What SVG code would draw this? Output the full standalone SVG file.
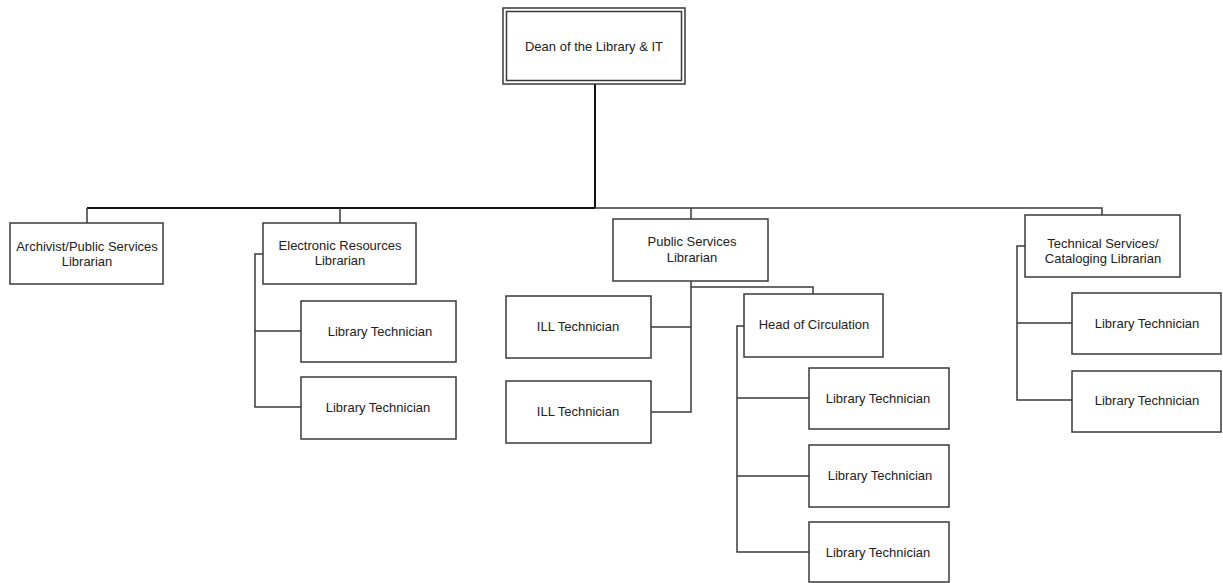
<svg xmlns="http://www.w3.org/2000/svg" width="1223" height="583" viewBox="0 0 1223 583">
<style>
.box{fill:#fff;stroke:#3a3a3a;stroke-width:1.5}
.t{font-family:"Liberation Sans",Arial,sans-serif;font-size:13px;fill:#222;text-anchor:middle}
.c{fill:none;stroke:#3a3a3a;stroke-width:1.5}
.k{fill:none;stroke:#111;stroke-width:2}
</style>
<rect width="1223" height="583" fill="#fff"/>
<g id="connectors">
<path class="k" d="M595 84V208M87 208H595"/>
<path class="c" d="M595 208H1102V215M87 208V223M340 208V223M691 208V219"/>
<path class="c" d="M263 254H255V407H301M255 331H301"/>
<path class="c" d="M691 281V412H651M651 327H691M691 287H813V294"/>
<path class="c" d="M744 326H737V552H809M737 398H809M737 476H809"/>
<path class="c" d="M1025 246H1017V400H1072M1017 323H1072"/>
</g>
<g id="dean">
<rect x="503" y="8" width="182" height="76" fill="#fff" stroke="#3a3a3a" stroke-width="1.5"/>
<rect x="506.5" y="11.5" width="175" height="69" fill="none" stroke="#3a3a3a" stroke-width="1.5"/>
<text class="t" x="594" y="51">Dean of the Library &amp; IT</text>
</g>
<g id="archivist">
<rect class="box" x="10" y="223" width="153" height="61"/>
<text class="t" x="87" y="251">Archivist/Public Services</text>
<text class="t" x="87" y="266">Librarian</text>
</g>
<g id="electronic">
<rect class="box" x="263" y="223" width="153" height="61"/>
<text class="t" x="340" y="250">Electronic Resources</text>
<text class="t" x="340" y="265">Librarian</text>
</g>
<g id="er-tech1">
<rect class="box" x="301" y="301" width="155" height="61"/>
<text class="t" x="380" y="336">Library Technician</text>
</g>
<g id="er-tech2">
<rect class="box" x="301" y="377" width="155" height="62"/>
<text class="t" x="378" y="412">Library Technician</text>
</g>
<g id="public">
<rect class="box" x="613" y="219" width="155" height="62"/>
<text class="t" x="692" y="246">Public Services</text>
<text class="t" x="692" y="262">Librarian</text>
</g>
<g id="ill1">
<rect class="box" x="506" y="296" width="145" height="62"/>
<text class="t" x="578" y="331">ILL Technician</text>
</g>
<g id="ill2">
<rect class="box" x="506" y="381" width="145" height="62"/>
<text class="t" x="578" y="416">ILL Technician</text>
</g>
<g id="circulation">
<rect class="box" x="744" y="294" width="139" height="63"/>
<text class="t" x="814" y="329">Head of Circulation</text>
</g>
<g id="circ-tech1">
<rect class="box" x="809" y="368" width="140" height="61"/>
<text class="t" x="878" y="403">Library Technician</text>
</g>
<g id="circ-tech2">
<rect class="box" x="809" y="445" width="140" height="62"/>
<text class="t" x="880" y="480">Library Technician</text>
</g>
<g id="circ-tech3">
<rect class="box" x="809" y="522" width="140" height="60"/>
<text class="t" x="878" y="557">Library Technician</text>
</g>
<g id="technical">
<rect class="box" x="1025" y="215" width="155" height="62"/>
<text class="t" x="1103" y="248">Technical Services/</text>
<text class="t" x="1103" y="263">Cataloging Librarian</text>
</g>
<g id="ts-tech1">
<rect class="box" x="1072" y="293" width="149" height="61"/>
<text class="t" x="1147" y="328">Library Technician</text>
</g>
<g id="ts-tech2">
<rect class="box" x="1072" y="371" width="149" height="61"/>
<text class="t" x="1147" y="405">Library Technician</text>
</g>
</svg>
